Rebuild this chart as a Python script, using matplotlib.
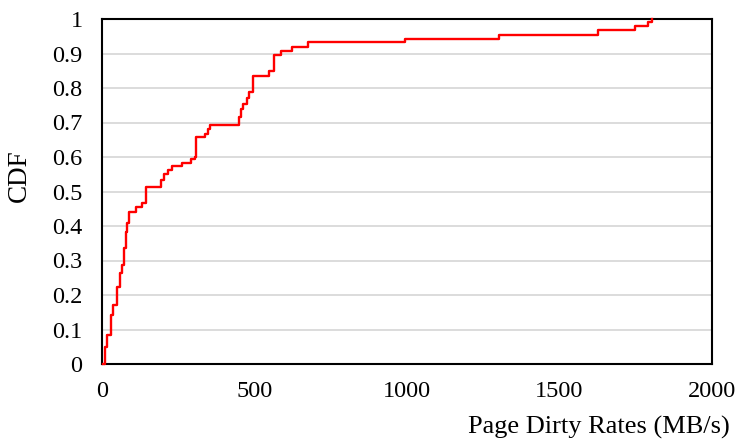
import matplotlib
matplotlib.use("Agg")
import matplotlib.pyplot as plt

# CDF breakpoints (MB/s) and cumulative fraction after each step
rates = [4, 10, 18, 28, 37, 48, 60, 67, 73, 78, 83, 88, 110, 132, 143, 192, 203, 215,
         231, 261, 291, 305, 308, 338, 349, 354, 449, 456, 463, 474, 483, 496, 548,
         564, 586, 622, 675, 993, 1302, 1627, 1748, 1791, 1802]
cdf = [0.0, 0.048, 0.084, 0.142, 0.171, 0.224, 0.263, 0.287, 0.335, 0.384, 0.408,
       0.441, 0.454, 0.468, 0.514, 0.533, 0.550, 0.562, 0.574, 0.583, 0.593, 0.601,
       0.657, 0.668, 0.680, 0.692, 0.717, 0.740, 0.755, 0.770, 0.789, 0.836, 0.848,
       0.896, 0.908, 0.920, 0.933, 0.942, 0.955, 0.968, 0.980, 0.990, 1.0]

x_ticks = [0, 500, 1000, 1500, 2000]
y_ticks = [0, 0.1, 0.2, 0.3, 0.4, 0.5, 0.6, 0.7, 0.8, 0.9, 1]
y_tick_labels = ["0", "0.1", "0.2", "0.3", "0.4", "0.5", "0.6", "0.7", "0.8", "0.9", "1"]

plt.rcParams['font.family'] = ['Liberation Serif', 'DejaVu Serif']

fig = plt.figure(figsize=(7.41, 4.43), dpi=100)
ax = fig.add_axes([102/741, 1-364/443, 610/741, 345/443])

ax.step(rates, cdf, where='post', color='#ff0000', linewidth=1.7, zorder=3,
        clip_on=False)

ax.set_xlim(0, 2000)
ax.set_ylim(0, 1)
ax.set_xticks(x_ticks)
ax.set_xticklabels([str(t) for t in x_ticks], fontsize=17.5)
ax.set_yticks(y_ticks)
ax.set_yticklabels(y_tick_labels, fontsize=17.5)
ax.tick_params(axis='both', length=0)
ax.tick_params(axis='x', pad=12)
ax.tick_params(axis='y', pad=14)

ax.yaxis.grid(True, color='#d9d9d9', linewidth=1.3)
ax.set_axisbelow(True)
for s in ax.spines.values():
    s.set_color('black')
    s.set_linewidth(1.5)

fig.text(19/741, 1-176/443, "CDF", rotation=90, fontsize=19.5, ha='center', va='center')
fig.text(730/741, 1-427/443, "Page Dirty Rates (MB/s)", fontsize=19, ha='right', va='center')

fig.savefig("out.png", dpi=100)
